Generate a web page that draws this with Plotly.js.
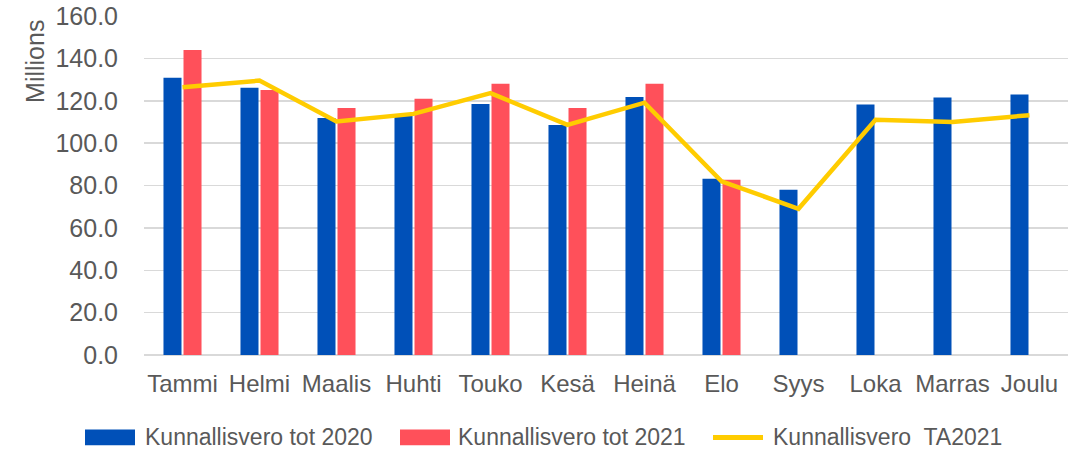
<!DOCTYPE html>
<html>
<head>
<meta charset="utf-8">
<script src="https://cdn.plot.ly/plotly-3.0.1.min.js"></script>
<style>html,body{margin:0;padding:0;background:#fff}#chart{width:1084px;height:450px}</style>
</head>
<body>
<div id="chart"></div>
<script>
const months = ["Tammi","Helmi","Maalis","Huhti","Touko","Kesä","Heinä","Elo","Syys","Loka","Marras","Joulu"];
const tot2020 = [130.8,126.1,111.9,112.8,118.5,108.6,121.8,83.2,78.0,118.2,121.5,122.9];
const tot2021 = [144.0,125.1,116.6,120.9,128.0,116.6,128.0,82.7,null,null,null,null];
const ta2021 = [126.4,129.5,110.2,113.8,123.6,108.6,119.1,82.0,69.0,111.0,110.0,113.2];
const yTicks = [0,20,40,60,80,100,120,140,160];
const yTickText = yTicks.map(v => v.toFixed(1));
const seriesNames = ["Kunnallisvero tot 2020","Kunnallisvero tot 2021","Kunnallisvero  TA2021"];
const seriesColors = ["#0050B8","#FF505A","#FFCC00"];

const font = "Arial, 'Liberation Sans', sans-serif";
const grey = "#595959";

const data = [
  {type:"bar", name:seriesNames[0], x:months, y:tot2020, marker:{color:seriesColors[0]}},
  {type:"bar", name:seriesNames[1], x:months, y:tot2021, marker:{color:seriesColors[1]}},
  {type:"scatter", mode:"lines", name:seriesNames[2], x:months, y:ta2021,
   line:{color:seriesColors[2], width:4.5}, connectgaps:false}
];

// custom legend (layout, paper coordinates)
const L = 144, W = 924, B = 355.5, H = 339.5;
const px = v => (v - L) / W;
const py = v => (B - v) / H;
const legendItems = [
  {x0:85, text:143},
  {x0:400, text:456},
  {x0:713, text:771}
];
const shapes = [];
const annotations = [
  {text:"Millions", xref:"paper", yref:"paper", x:px(35), y:py(62), xanchor:"center", yanchor:"middle",
   textangle:-90, showarrow:false, font:{family:font, size:25, color:grey}}
];
legendItems.forEach((it, i) => {
  if (i < 2) {
    shapes.push({type:"rect", xref:"paper", yref:"paper", x0:px(it.x0), x1:px(it.x0+50),
                 y0:py(446), y1:py(430), fillcolor:seriesColors[i], line:{width:0}});
  } else {
    shapes.push({type:"line", xref:"paper", yref:"paper", x0:px(it.x0), x1:px(it.x0+50),
                 y0:py(438), y1:py(438), line:{color:seriesColors[i], width:5}});
  }
  annotations.push({text:seriesNames[i].replace(/ {2}/g, "&nbsp; "), xref:"paper", yref:"paper", x:px(it.text), y:py(438),
                    xanchor:"left", yanchor:"middle", showarrow:false, font:{family:font, size:23, color:grey}});
});

const layout = {
  width:1084, height:450,
  margin:{l:L, r:1084-L-W, t:16, b:450-B, autoexpand:false},
  paper_bgcolor:"#fff", plot_bgcolor:"#fff",
  barmode:"group", bargap:0.48, bargroupgap:0.1,
  font:{family:font, color:grey, size:20},
  showlegend:false,
  xaxis:{type:"category", showgrid:false, zeroline:false, showline:false, ticks:"", automargin:false,
         tickfont:{family:font, size:24, color:grey}, ticklabelstandoff:12, fixedrange:true},
  yaxis:{range:[0,160], tickvals:yTicks, ticktext:yTickText, showgrid:true, gridcolor:"#D9D9D9",
         gridwidth:1.5, zeroline:true, zerolinecolor:"#D9D9D9", zerolinewidth:1.5, showline:false, ticks:"",
         automargin:false, tickfont:{family:font, size:25, color:grey}, ticklabelstandoff:25, fixedrange:true},
  shapes:shapes,
  annotations:annotations
};

Plotly.newPlot("chart", data, layout, {displayModeBar:false, staticPlot:true});
</script>
</body>
</html>
